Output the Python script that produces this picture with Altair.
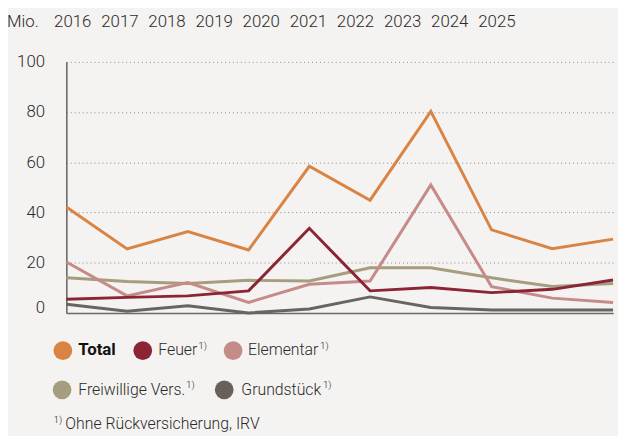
import altair as alt
import pandas as pd

years = list(range(2016, 2026))
total = [42.2, 25.5, 32.4, 25.1, 58.4, 44.9, 80.3, 33.1, 25.6, 29.4]
feuer = [5.5, 6.2, 6.8, 8.8, 33.7, 8.8, 10.1, 8.1, 9.4, 13.1]
elementar = [20.3, 6.8, 12.1, 4.2, 11.4, 12.7, 51.0, 10.5, 5.9, 4.2]
freiwillige = [14.0, 12.5, 11.7, 13.0, 12.7, 18.0, 18.0, 14.0, 10.5, 11.7]
grundstueck = [3.5, 0.7, 2.9, 0.0, 1.6, 6.4, 2.2, 1.2, 1.2, 1.2]

series_names = ["Total", "Feuer", "Elementar", "Freiwillige Vers.", "Grundstück"]
series_values = [total, feuer, elementar, freiwillige, grundstueck]
line_colors = ["#D98445", "#8B2535", "#C58B89", "#A69C7E", "#686462"]
legend_colors = ["#D98445", "#8B2535", "#C58B89", "#A69C7E", "#6B5F5A"]
footnote = "Ohne Rückversicherung, IRV"
unit_label = "Mio."

FONT = "Roboto"
TXT = "#2a2a2a"

rows = []
for name, vals in zip(series_names, series_values):
    for y, v in zip(years, vals):
        rows.append({"year": str(y), "series": name, "value": v})
df = pd.DataFrame(rows)

xs = alt.X("year:O", scale=alt.Scale(type="point", padding=0),
           axis=alt.Axis(labels=False, ticks=False, domain=True, domainColor="#6a6a6a",
                         domainWidth=1.6, grid=False, title=None))
ys = alt.Y("value:Q", scale=alt.Scale(domain=[0, 100], nice=False),
           axis=alt.Axis(values=[0, 20, 40, 60, 80, 100], ticks=False, domain=True,
                         domainColor="#6a6a6a", domainWidth=1.6, grid=True,
                         gridColor="#8a8a8a", gridDash=[1, 3], gridWidth=1,
                         labelFont=FONT, labelFontSize=17, labelFontWeight=300,
                         labelColor=TXT, labelPadding=22, title=None,
                         labelOffset={"condition": {"test": "datum.value == 0", "value": -5},
                                      "value": 0}))

layers = []
order = [4, 3, 2, 1, 0]
for i in order:
    name = series_names[i]
    layers.append(
        alt.Chart(df).transform_filter(alt.datum.series == name)
        .mark_line(strokeWidth=3, color=line_colors[i], clip=False)
        .encode(x=xs, y=ys)
    )

lines = alt.layer(*layers)

# top year header
hdr_df = pd.DataFrame({"year": [str(y) for y in years]})
header = alt.Chart(hdr_df).mark_text(font=FONT, fontSize=17, fontWeight=300, color=TXT,
                                     baseline="middle", align="center").encode(
    x=alt.X("year:O", scale=alt.Scale(type="point", padding=0, range=[6.5, 435.5]), axis=None),
    y=alt.value(-40),
    text="year:N",
)
mio = alt.Chart(pd.DataFrame({"t": [unit_label]})).mark_text(
    font=FONT, fontSize=17, fontWeight=300, color=TXT, baseline="middle", align="center"
).encode(x=alt.value(-44), y=alt.value(-40), text="t:N")

# legend
circle_pos = [(-3.5, 292), (77.3, 292), (168.7, 292), (-4.3, 331.7), (159.7, 331.7)]
text_pos = [(12, 292), (93, 292), (183.7, 292), (12, 331.7), (177, 331.7)]
sup_pos = [None, (133.5, 287), (256.5, 287), (121, 326.7), (259.5, 326.7)]

leg_layers = []
one = pd.DataFrame({"a": [0]})
for i, name in enumerate(series_names):
    cx, cy = circle_pos[i]
    leg_layers.append(alt.Chart(one).mark_circle(size=360, opacity=1, color=legend_colors[i])
                      .encode(x=alt.value(cx), y=alt.value(cy)))
    tx, ty = text_pos[i]
    leg_layers.append(alt.Chart(pd.DataFrame({"t": [name]})).mark_text(
        font=FONT, fontSize=17 if i == 0 else 16, fontWeight=700 if i == 0 else 300,
        color="#111" if i == 0 else TXT,
        align="left", baseline="middle").encode(x=alt.value(tx), y=alt.value(ty), text="t:N"))
    if sup_pos[i]:
        sx, sy = sup_pos[i]
        leg_layers.append(alt.Chart(pd.DataFrame({"t": ["1)"]})).mark_text(
            font=FONT, fontSize=10, fontWeight=300, color=TXT, align="left",
            baseline="middle").encode(x=alt.value(sx), y=alt.value(sy), text="t:N"))

leg_layers.append(alt.Chart(pd.DataFrame({"t": ["1)"]})).mark_text(
    font=FONT, fontSize=10, fontWeight=300, color=TXT, align="left", baseline="middle"
).encode(x=alt.value(-13), y=alt.value(362), text="t:N"))
leg_layers.append(alt.Chart(pd.DataFrame({"t": [footnote]})).mark_text(
    font=FONT, fontSize=16, fontWeight=300, color=TXT, align="left", baseline="middle"
).encode(x=alt.value(-1), y=alt.value(366), text="t:N"))

chart = alt.layer(lines, header, mio, *leg_layers).resolve_scale(x="independent").properties(
    width=553, height=254,
    autosize=alt.AutoSizeParams(type="none"),
    padding={"left": 59, "top": 52, "right": 5, "bottom": 122},
    background="#F4F3F1",
).configure_view(stroke=None)

chart.save("out.html", embed_options={"renderer": "svg", "actions": False})
